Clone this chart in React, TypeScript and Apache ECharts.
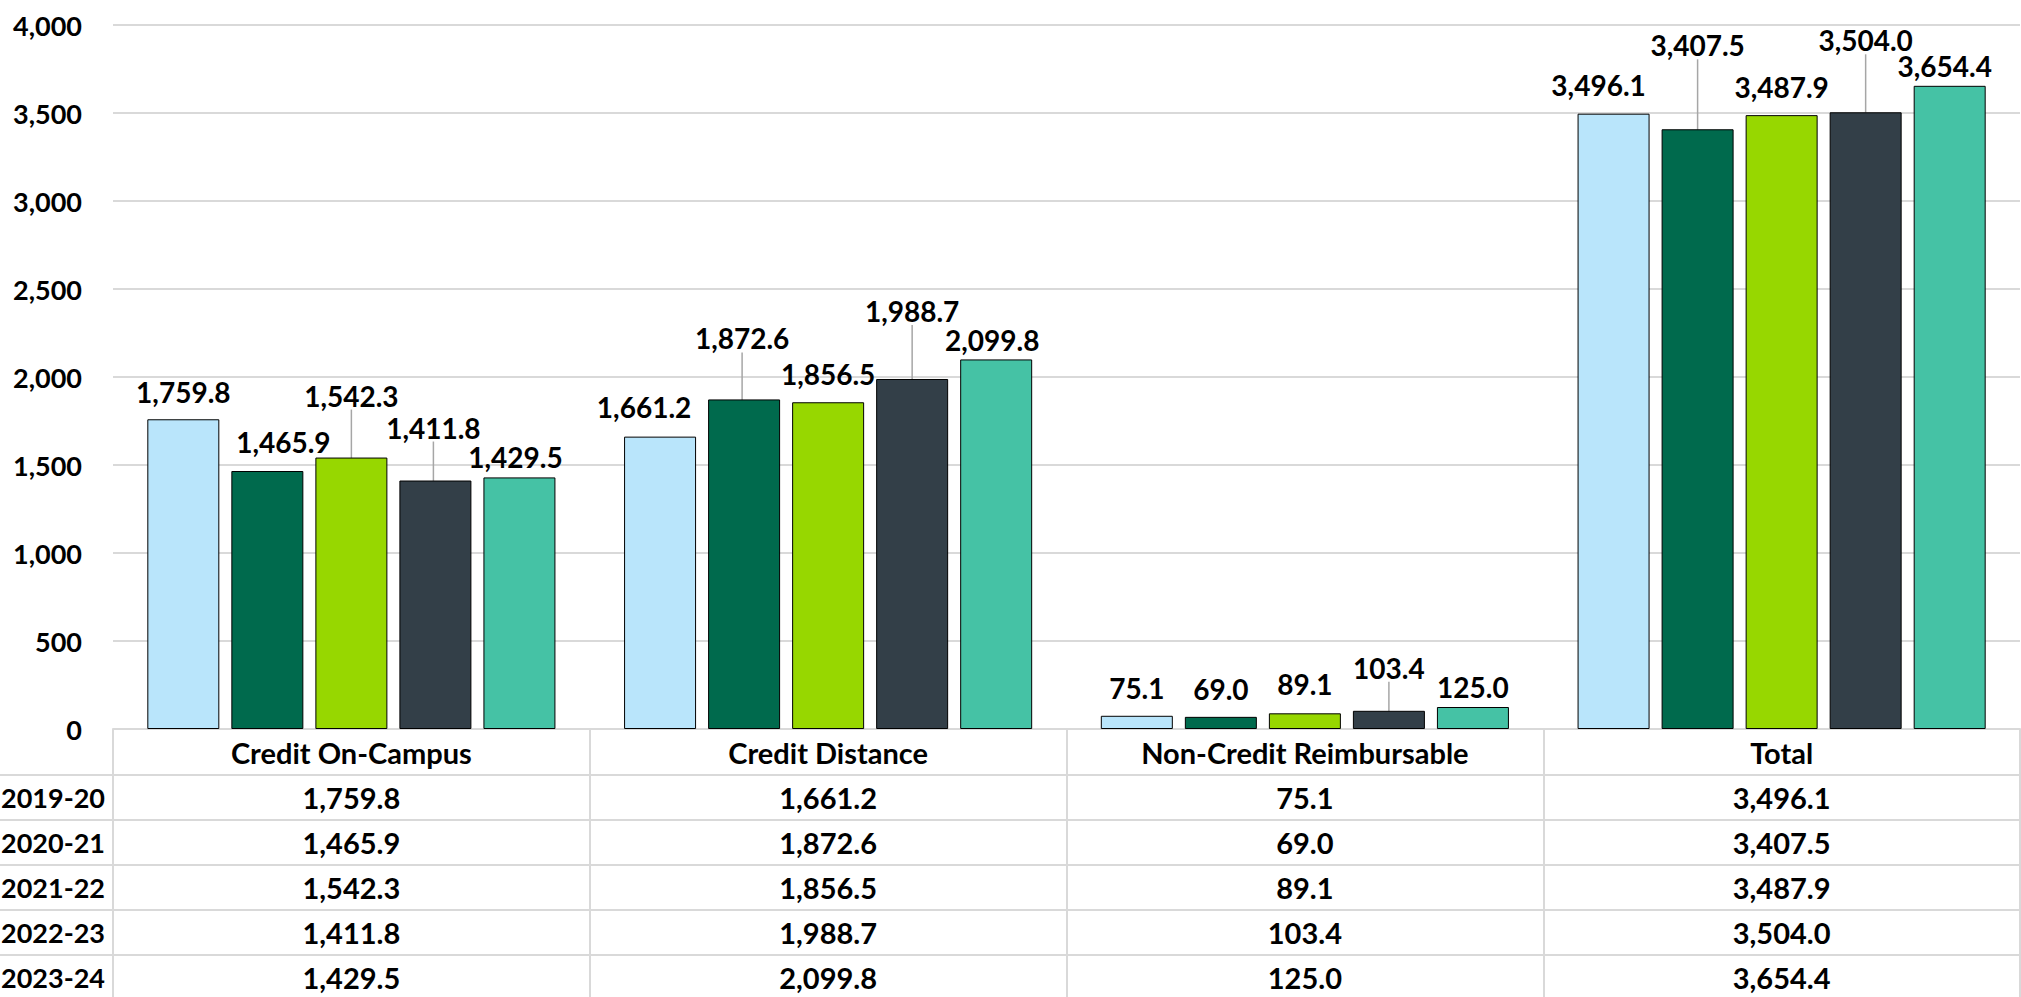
import React, { useEffect, useRef } from "react";
import * as echarts from "echarts";

// ---------- data ----------
const categories = ["Credit On-Campus", "Credit Distance", "Non-Credit Reimbursable", "Total"];
const years = ["2019-20", "2020-21", "2021-22", "2022-23", "2023-24"];
const fy2019_20 = [1759.8, 1661.2, 75.1, 3496.1];
const fy2020_21 = [1465.9, 1872.6, 69.0, 3407.5];
const fy2021_22 = [1542.3, 1856.5, 89.1, 3487.9];
const fy2022_23 = [1411.8, 1988.7, 103.4, 3504.0];
const fy2023_24 = [1429.5, 2099.8, 125.0, 3654.4];
const seriesValues = [fy2019_20, fy2020_21, fy2021_22, fy2022_23, fy2023_24];
const yMin = 0;
const yMax = 4000;
const yInterval = 500;

// ---------- styling / layout ----------
const colors = ["#B9E5FB", "#006A4D", "#97D700", "#333F48", "#45C2A5"];
const FONT = "Lato, 'Open Sans', sans-serif";
const FS_AXIS = 27;
const FS_LABEL = 28;
const FS_TABLE = 29;
const FS_ROWHEAD = 27;
const GRID_COLOR = "#D9D9D9";
const W = 2021;
const H = 997;
const GRID_LEFT = 113;
const GRID_TOP = 25;
const AXIS_Y = 729;
const ROW_OFFSETS = [46, 91, 136, 181, 226];
const ROW_H = 45;
const LINE_PAD = 10;
const BASE_GAP = 9;
// label gap (text bottom to bar top), horizontal shifts, leader lines  [series][category]
const labelGap = [
  [17, 20, 18, 19],
  [19, 51, 18, 74],
  [52, 18, 19, 18],
  [43, 58, 33, 62],
  [10, 9, 10, 10],
];
const labelDx = [
  [0, -16, 0, -15],
  [16, -2, 0, 0],
  [0, 0, 0, 0],
  [-2, 0, 0, 0],
  [-4, -4, 0, -5],
];
const leader = [
  [false, false, false, false],
  [false, true, false, true],
  [true, false, false, false],
  [true, true, true, true],
  [false, false, false, false],
];

const fmt1 = (v: number) =>
  v.toLocaleString("en-US", { minimumFractionDigits: 1, maximumFractionDigits: 1 });

export default function App() {
  const ref = useRef<HTMLDivElement>(null);
  useEffect(() => {
    if (!ref.current) return;
    const chart = echarts.init(ref.current, undefined, { renderer: "svg" });
    const txt = (fs: number) => ({ fontFamily: FONT, fontSize: fs, fontWeight: "bold" as const, color: "#000" });

    const xAxes: any[] = [
      {
        type: "category",
        data: categories,
        position: "bottom",
        axisLine: { show: true, lineStyle: { color: GRID_COLOR, width: 2 } },
        axisTick: { show: true, length: H - AXIS_Y, alignWithLabel: false, lineStyle: { color: GRID_COLOR, width: 2 } },
        axisLabel: { ...txt(FS_TABLE), margin: 23, verticalAlign: "middle", interval: 0 },
        splitLine: { show: false },
      },
    ];
    years.forEach((_, r) => {
      xAxes.push({
        type: "category",
        data: categories,
        position: "bottom",
        offset: ROW_OFFSETS[r],
        axisLine: { show: true, lineStyle: { color: GRID_COLOR, width: 2 } },
        axisTick: { show: false },
        axisLabel: {
          ...txt(FS_TABLE),
          margin: ROW_H / 2,
          verticalAlign: "middle",
          interval: 0,
          formatter: (_v: string, idx: number) => fmt1(seriesValues[r][idx]),
        },
        splitLine: { show: false },
      });
    });

    const graphics: any[] = [];
    years.forEach((y, r) => {
      const top = AXIS_Y + ROW_OFFSETS[r];
      graphics.push({
        type: "line",
        shape: { x1: 0, y1: top, x2: GRID_LEFT, y2: top },
        style: { stroke: GRID_COLOR, lineWidth: 2 },
        silent: true,
      });
      graphics.push({
        type: "text",
        x: 1,
        y: top + ROW_H / 2,
        style: {
          text: y,
          fill: "#000",
          font: `bold ${FS_ROWHEAD}px ${FONT}`,
          textAlign: "left",
          textVerticalAlign: "middle",
        },
        silent: true,
      });
    });

    const series = years.map((y, s) => ({
      type: "bar",
      name: y,
      xAxisIndex: 0,
      yAxisIndex: 0,
      barWidth: 72,
      barGap: "16.7%",
      itemStyle: { color: colors[s], borderColor: "#000", borderWidth: 1 },
      data: seriesValues[s].map((v, d) =>
        leader[s][d]
          ? { value: v, label: { padding: [0, 0, LINE_PAD, 0] }, labelLine: { show: true } }
          : { value: v }
      ),
      label: {
        show: true,
        position: "top",
        distance: 5,
        ...txt(FS_LABEL),
        formatter: (p: any) => fmt1(p.value),
      },
      labelLine: { show: false, length2: 0, lineStyle: { color: "#A6A6A6", width: 1.5 } },
      labelLayout: (p: any) => {
        const si = p.seriesIndex;
        const di = p.dataIndex;
        const pad = leader[si][di] ? LINE_PAD : 0;
        return { dx: labelDx[si][di], dy: -(labelGap[si][di] - BASE_GAP - pad) };
      },
    }));

    chart.setOption({
      animation: false,
      backgroundColor: "#fff",
      grid: { left: GRID_LEFT, right: 1, top: GRID_TOP, bottom: H - AXIS_Y, containLabel: false },
      xAxis: xAxes,
      yAxis: {
        type: "value",
        min: yMin,
        max: yMax,
        interval: yInterval,
        axisLine: { show: false },
        axisTick: { show: false },
        axisLabel: { ...txt(FS_AXIS), margin: 31, formatter: (v: number) => v.toLocaleString("en-US") },
        splitLine: { show: true, lineStyle: { color: GRID_COLOR, width: 2 } },
      },
      series,
      graphic: graphics,
    });
    return () => chart.dispose();
  }, []);
  return (
    <div
      ref={ref}
      style={{ position: "fixed", left: 0, top: 0, width: W, height: H, background: "#fff" }}
    />
  );
}
